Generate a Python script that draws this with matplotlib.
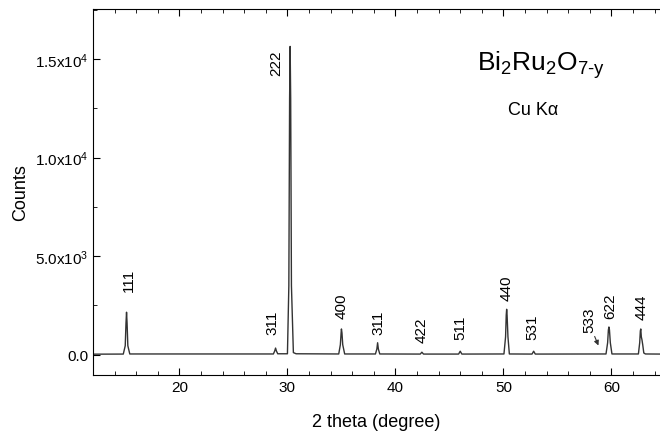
import numpy as np
import matplotlib
matplotlib.use("Agg")
import matplotlib.pyplot as plt
from matplotlib.ticker import MultipleLocator, FuncFormatter

plt.rcParams['font.family'] = ['Liberation Sans', 'DejaVu Sans']
plt.rcParams['mathtext.fontset'] = 'custom'
plt.rcParams['mathtext.rm'] = 'Liberation Sans'
plt.rcParams['mathtext.default'] = 'regular'

# XRD trace (2 theta, counts)
two_theta = [12.0, 14.8, 14.98, 15.05, 15.1, 15.15, 15.22, 15.4,
             28.7, 28.82, 28.9, 28.98, 29.1,
             30.0, 30.13, 30.2, 30.25, 30.3, 30.37, 30.55, 30.8,
             34.75, 34.9, 34.97, 35.0, 35.05, 35.12, 35.3,
             38.15, 38.28, 38.35, 38.42, 38.55,
             42.3, 42.45, 42.6,
             45.85, 46.0, 46.15,
             50.05, 50.2, 50.26, 50.3, 50.34, 50.42, 50.55,
             52.65, 52.8, 52.95,
             59.5, 59.65, 59.72, 59.77, 59.82, 59.9, 60.05,
             62.5, 62.62, 62.68, 62.72, 62.77, 62.83, 62.9, 63.0, 63.15, 64.5]
counts = [20, 25, 450, 1600, 2150, 1600, 450, 30,
          30, 180, 330, 180, 40,
          40, 3500, 13000, 15650, 13000, 3500, 100, 40,
          30, 500, 1100, 1300, 1100, 500, 30,
          30, 280, 600, 280, 30,
          25, 120, 25,
          25, 170, 25,
          30, 900, 2000, 2300, 2000, 900, 30,
          25, 170, 25,
          30, 600, 1250, 1400, 1250, 600, 30,
          30, 600, 1200, 1300, 900, 750, 500, 80, 30, 25]

# peak labels: text, x, y of label bottom
hkl = ["111", "311", "222", "400", "311", "422", "511", "440", "531", "533", "622", "444"]
hkl_x = [15.3, 28.6, 29.0, 35.0, 38.4, 42.4, 46.0, 50.3, 52.7, 58.0, 59.9, 62.8]
hkl_y = [3250, 1060, 14200, 1870, 1060, 650, 765, 2790, 765, 1160, 1870, 1820]


def ytick_fmt(v, pos):
    if abs(v) < 1e-9:
        return "0.0"
    exp = int(np.floor(np.log10(abs(v))))
    mant = v / 10 ** exp
    return f"{mant:.1f}x10$^{{{exp}}}$"


fig = plt.figure(figsize=(6.6, 4.35), dpi=100)
ax = fig.add_axes([0.141, 0.136, 0.859, 0.841])

ax.plot(two_theta, counts, color='#333333', lw=1.0)

for t, x, y in zip(hkl, hkl_x, hkl_y):
    ax.text(x, y, t, rotation=90, ha='center', va='bottom', fontsize=11)

# arrow for 533
ax.annotate("", xy=(58.9, 330), xytext=(58.35, 1050),
            arrowprops=dict(arrowstyle='-|>', color='#333333', lw=0.8,
                            mutation_scale=7))

ax.text(0.79, 0.85, r"Bi$_2$Ru$_2$O$_{7\text{-}y}$", transform=ax.transAxes,
        fontsize=19, ha='center', va='center')
ax.text(0.776, 0.724, "Cu K\u03b1", transform=ax.transAxes,
        fontsize=13, ha='center', va='center')

ax.set_xlim(12, 64.5)
ax.set_ylim(-1030, 17550)
ax.xaxis.set_major_locator(MultipleLocator(10))
ax.xaxis.set_minor_locator(MultipleLocator(2))
ax.yaxis.set_major_locator(MultipleLocator(5000))
ax.yaxis.set_minor_locator(MultipleLocator(2500))
ax.yaxis.set_major_formatter(FuncFormatter(ytick_fmt))
ax.tick_params(which='both', direction='in', top=True, labelsize=11)
ax.tick_params(which='major', length=5)
ax.tick_params(which='minor', length=3)
ax.spines['right'].set_visible(False)

ax.set_xlabel("2 theta (degree)", fontsize=13, labelpad=14)
ax.set_ylabel("Counts", fontsize=13, labelpad=4)

fig.savefig("out.png", dpi=100)
